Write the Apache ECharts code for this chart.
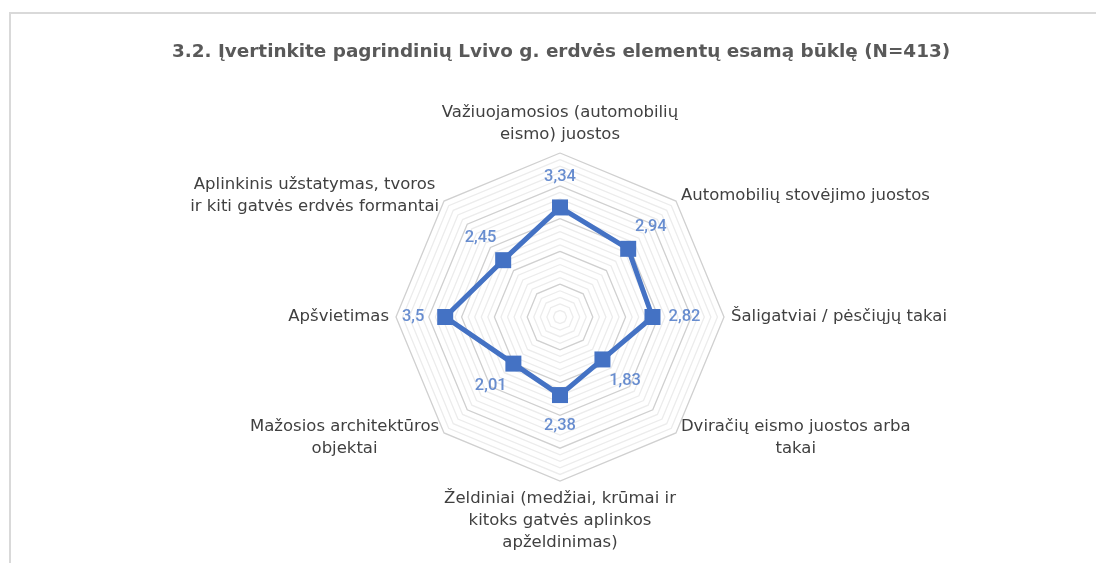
<!DOCTYPE html>
<html>
<head>
<meta charset="utf-8">
<script src="https://cdn.jsdelivr.net/npm/echarts@6/dist/echarts.min.js"></script>
<style>
  body { margin: 0; background: #fff; }
  #frame { position: absolute; left: 9px; top: 12px; width: 1200px; height: 700px;
           border-top: 2px solid #d9d9d9; border-left: 2px solid #d9d9d9; }
  #main { position: absolute; left: 0; top: 0; width: 1096px; height: 563px; }
</style>
</head>
<body>
<div id="frame"></div>
<div id="main"></div>
<script>
  // categories listed clockwise, starting from the top
  var categories = [
    "Važiuojamosios (automobilių\neismo) juostos",
    "Automobilių stovėjimo juostos",
    "Šaligatviai / pėsčiųjų takai",
    "Dviračių eismo juostos arba\ntakai",
    "Želdiniai (medžiai, krūmai ir\nkitoks gatvės aplinkos\napželdinimas)",
    "Mažosios architektūros\nobjektai",
    "Apšvietimas",
    "Aplinkinis užstatymas, tvoros\nir kiti gatvės erdvės formantai"
  ];
  var values = [3.34, 2.94, 2.82, 1.83, 2.38, 2.01, 3.5, 2.45];
  var axisMax = 5;

  var font = "DejaVu Sans";
  var numFont = "Roboto";
  var blue = "#4472C4";

  // radar goes counterclockwise, so keep the first one and reverse the rest
  var radarOrder = [0].concat(categories.map(function (c, i) { return i; }).slice(1).reverse());

  var chartDom = document.getElementById("main");
  var myChart = echarts.init(chartDom);
  var option;

  // grid rings: darker every whole number, lighter every 0.2
  var ringColors = ["#d0d0d0", "#ececec", "#ececec", "#ececec", "#ececec"];

  option = {
    animation: false,
    title: {
      text: "3.2. Įvertinkite pagrindinių Lvivo g. erdvės elementų esamą būklę (N=413)",
      left: 167,
      top: 38,
      textStyle: { fontFamily: font, fontSize: 18.4, fontWeight: "bold", color: "#595959" }
    },
    radar: {
      center: [560, 317],
      radius: 164,
      startAngle: 90,
      splitNumber: 25,
      nameGap: 7,
      indicator: radarOrder.map(function (i) {
        return { name: categories[i], min: 0, max: axisMax };
      }),
      axisName: {
        formatter: function (name) {
          return name.split("\n").map(function (l) { return "{c|" + l + "}"; }).join("\n");
        },
        rich: {
          c: { align: "center", fontFamily: font, fontSize: 16.5, color: "#404040", lineHeight: 22 }
        }
      },
      axisLine: { show: false },
      splitArea: { show: false },
      splitLine: { lineStyle: { color: ringColors, width: 1.3 } }
    },
    polar: {
      center: [560, 317],
      radius: [0, 164]
    },
    angleAxis: {
      type: "category",
      data: categories,
      startAngle: 90,
      clockwise: true,
      boundaryGap: false,
      show: false
    },
    radiusAxis: { min: 0, max: axisMax, show: false },
    series: [
      {
        type: "radar",
        symbol: "rect",
        symbolSize: 16,
        lineStyle: { color: blue, width: 5 },
        itemStyle: { color: blue },
        data: [{ value: radarOrder.map(function (i) { return values[i]; }) }]
      },
      {
        // value labels only, pushed outward from each point
        type: "scatter",
        coordinateSystem: "polar",
        symbolSize: 14,
        itemStyle: { color: "transparent" },
        data: values.map(function (v, i) {
          var a = i * 2 * Math.PI / values.length;
          return {
            value: [v, i],
            label: { offset: [32 * Math.sin(a), -31 * Math.cos(a)] }
          };
        }),
        label: {
          show: true,
          position: "inside",
          fontFamily: numFont,
          fontSize: 16.5,
          fontWeight: 500,
          color: blue,
          formatter: function (p) { return String(p.value[0]).replace(".", ","); }
        }
      }
    ]
  };

  option && myChart.setOption(option);
</script>
</body>
</html>
